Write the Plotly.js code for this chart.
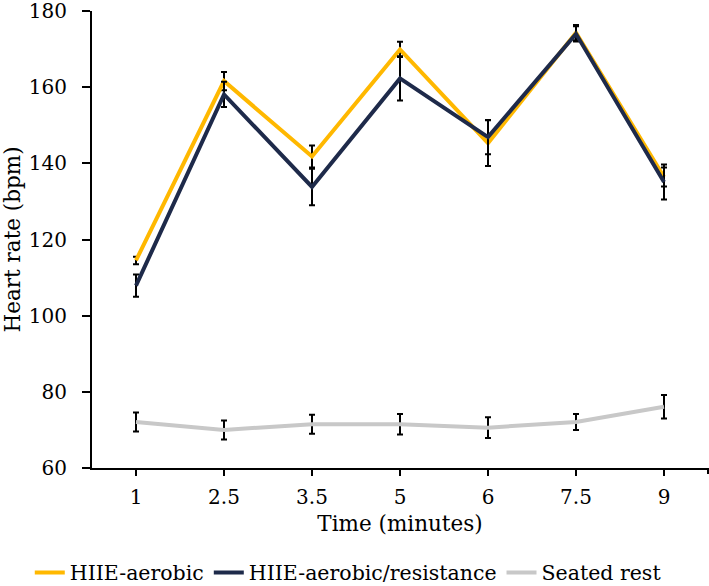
<!DOCTYPE html>
<html>
<head>
<meta charset="utf-8">
<script src="https://cdn.plot.ly/plotly-3.0.1.min.js"></script>
<style>
html,body{margin:0;padding:0;background:#fff;}
#chart{width:709px;height:586px;}
</style>
</head>
<body>
<div id="chart"></div>
<script>
const categories = ["1", "2.5", "3.5", "5", "6", "7.5", "9"];
const aerobic = [114.5, 161.6, 141.8, 169.9, 145.3, 174.3, 136.4];
const aerobicErr = [1.0, 2.4, 2.9, 2.0, 6.0, 2.0, 2.5];
const aerobicRes = [107.9, 158.1, 133.8, 162.3, 146.9, 174.0, 135.1];
const aerobicResErr = [2.9, 3.3, 4.8, 5.8, 4.5, 2.0, 4.6];
const seated = [72.1, 70.0, 71.5, 71.5, 70.6, 72.1, 76.1];
const seatedErr = [2.5, 2.5, 2.5, 2.7, 2.7, 2.1, 3.1];
const seriesNames = ["HIIE-aerobic", "HIIE-aerobic/resistance", "Seated rest"];
const yTicks = [60, 80, 100, 120, 140, 160, 180];

function errObj(arr){
  return {type:'data', array:arr, visible:true, color:'#000', thickness:2, width:3};
}
const traces = [
  {x:categories, y:aerobic, name:seriesNames[0], type:'scatter', mode:'lines',
   line:{color:'#FFB800', width:4}, error_y:errObj(aerobicErr)},
  {x:categories, y:aerobicRes, name:seriesNames[1], type:'scatter', mode:'lines',
   line:{color:'#1E2A4A', width:4}, error_y:errObj(aerobicResErr)},
  {x:categories, y:seated, name:seriesNames[2], type:'scatter', mode:'lines',
   line:{color:'#C8C8C8', width:4}, error_y:errObj(seatedErr)}
];
const fontFam = 'DejaVu Serif';
const layout = {
  width:709, height:586,
  margin:{l:92, r:1, t:11, b:118, autoexpand:false},
  paper_bgcolor:'#fff', plot_bgcolor:'#fff',
  font:{family:fontFam, size:20, color:'#000'},
  showlegend:true,
  legend:{orientation:'h', x:-0.101, xanchor:'left', y:-0.229, yanchor:'middle',
          font:{family:fontFam, size:20.5, color:'#000'}, itemwidth:30, tracegroupgap:0},
  xaxis:{type:'category', range:[-0.5, 6.5], showgrid:false, zeroline:false,
         showline:true, linecolor:'#000', linewidth:2,
         ticks:'outside', ticklen:6, tickwidth:2, tickcolor:'#000', ticklabelstandoff:4,
         tickfont:{family:fontFam, size:20},
         title:{text:'Time (minutes)', font:{family:fontFam, size:21.5}, standoff:8}},
  yaxis:{range:[60,180], tickmode:'array', tickvals:yTicks, showgrid:false, zeroline:false,
         showline:true, linecolor:'#000', linewidth:2, ticklabeloverflow:'allow',
         ticks:'outside', ticklen:8, tickwidth:2, tickcolor:'#000', ticklabelstandoff:11,
         tickfont:{family:fontFam, size:20},
         title:{text:'Heart rate (bpm)', font:{family:fontFam, size:21.5}, standoff:8}},
  shapes:[{type:'line', xref:'paper', x0:1, x1:1, yref:'paper', ysizemode:'pixel',
           yanchor:0, y0:0, y1:-6, line:{color:'#000', width:2}}]
};
Plotly.newPlot('chart', traces, layout, {displayModeBar:false, staticPlot:true});
</script>
</body>
</html>
